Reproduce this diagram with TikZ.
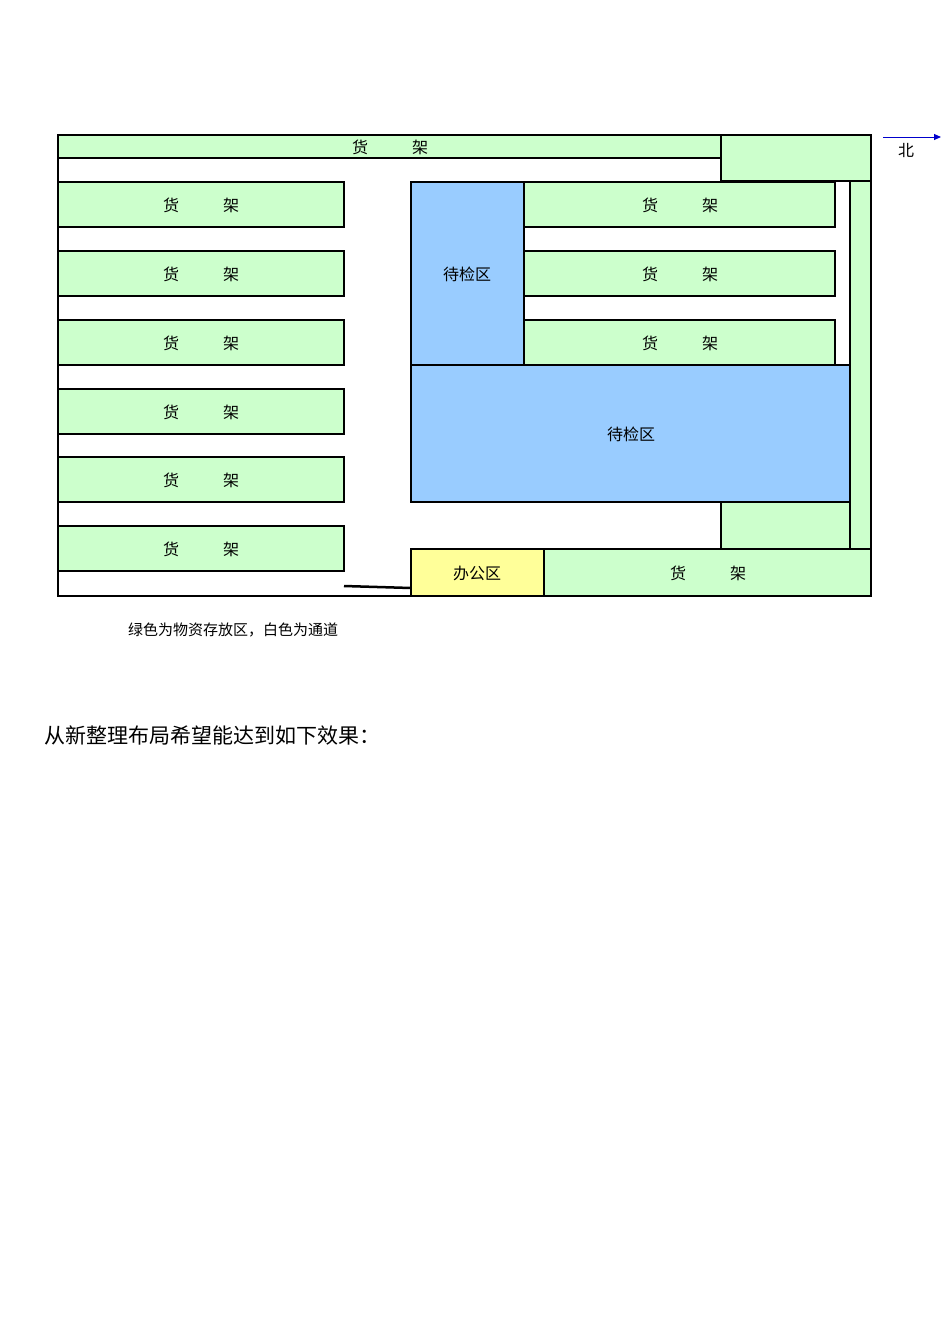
\documentclass[tikz,border=0pt]{standalone}
\usepackage{fontspec}
\usetikzlibrary{arrows.meta}
\setmainfont{Noto Sans CJK SC}
\newfontfamily\cjk{Noto Sans CJK SC}
\definecolor{shelf}{HTML}{CCFFCC}
\definecolor{insp}{HTML}{99CCFF}
\definecolor{office}{HTML}{FFFF99}
\begin{document}
\begin{tikzpicture}[x=1pt,y=-1pt,
  box/.style={draw=black,line width=1.5pt},
  lbl/.style={font=\cjk\fontsize{16}{16}\selectfont,inner sep=0}]
\useasboundingbox (0,0) rectangle (950,1344);
\draw[box] (58,135) rectangle (871,596);
\draw[box,fill=shelf] (58,135) rectangle (721,158);
\node[lbl] (t0) at (390,147) {货\hspace{44pt}架};
\draw[box,fill=shelf] (721,135) rectangle (871,181);
\foreach \y in {182,251,320,389,457,526}{
  \draw[box,fill=shelf] (58,\y) rectangle (344,\y+45);
  \node[lbl] at (201,\y+23) {货\hspace{44pt}架};
}
\foreach \y in {182,251,320}{
  \draw[box,fill=shelf] (524,\y) rectangle (835,\y+45);
  \node[lbl] at (680,\y+23) {货\hspace{44pt}架};
}
\draw[box,fill=shelf] (850,181) rectangle (871,549);
\draw[box,fill=insp] (411,182) rectangle (524,365);
\node[lbl] (i1) at (467,274) {待检区};
\draw[box,fill=insp] (411,365) rectangle (850,502);
\node[lbl] (i2) at (631,434) {待检区};
\draw[box,fill=shelf] (721,502) rectangle (850,549);
\draw[box,fill=office] (411,549) rectangle (544,596);
\node[lbl] (o) at (477,573) {办公区};
\draw[box,fill=shelf] (544,549) rectangle (871,596);
\node[lbl] at (708,573) {货\hspace{44pt}架};
\draw[line width=2.5pt] (344,586) -- (411,588);
\coordinate (a1) at (883,137); \coordinate (a2) at (941,137);
\draw[blue!80!black,line width=1pt,-{Triangle[length=7pt,width=6pt]}] (a1) -- (a2);
\node[lbl] (n) at (906,150) {北};
\node[lbl,anchor=west,font=\cjk\fontsize{15}{15}\selectfont] (c) at (128,630) {绿色为物资存放区，白色为通道};
\node[anchor=west,inner sep=0,font=\cjk\fontsize{21}{21}\selectfont] (b) at (44,735) {从新整理布局希望能达到如下效果：};
\end{tikzpicture}
\end{document}
